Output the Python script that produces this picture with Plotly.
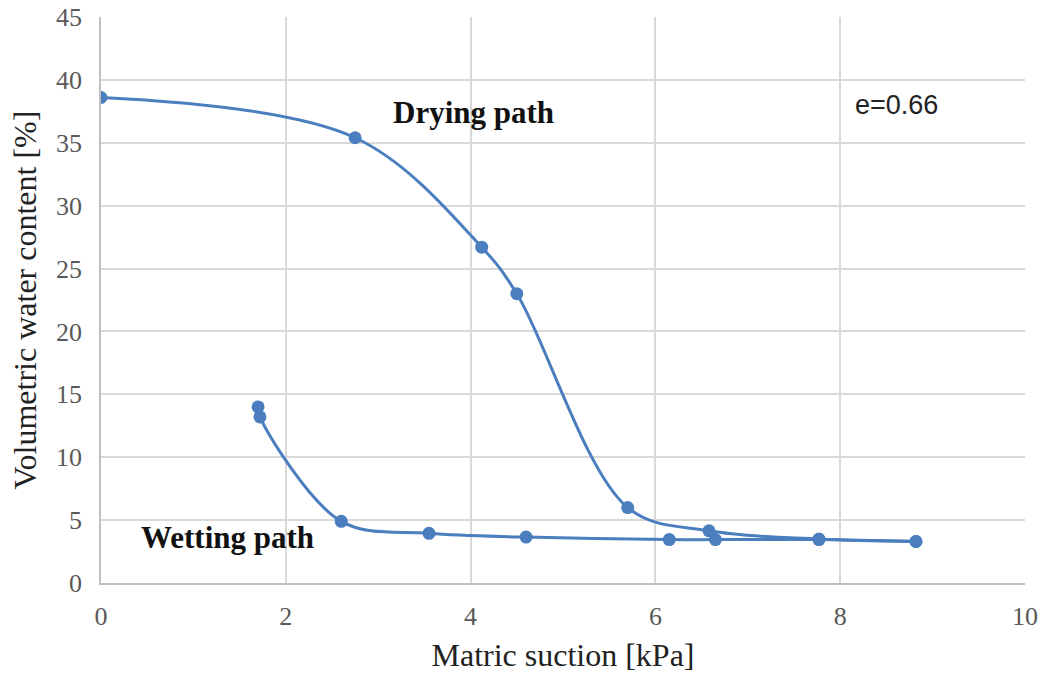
import plotly.graph_objects as go

drying_x = [0.0, 2.75, 4.12, 4.5, 5.7, 6.58, 7.77, 8.82]
drying_y = [38.6, 35.4, 26.7, 23.0, 6.0, 4.15, 3.5, 3.3]
wetting_x = [8.82, 7.77, 6.65, 6.15, 4.6, 3.55, 2.6, 1.72, 1.7]
wetting_y = [3.3, 3.45, 3.45, 3.45, 3.65, 3.95, 4.9, 13.2, 14.0]

x_ticks = [0, 2, 4, 6, 8, 10]
y_ticks = [0, 5, 10, 15, 20, 25, 30, 35, 40, 45]

color = "#4a7ebf"
serif = "Liberation Serif, Times New Roman, serif"

fig = go.Figure()
for xs, ys, name in [(drying_x, drying_y, "Drying path"), (wetting_x, wetting_y, "Wetting path")]:
    fig.add_trace(go.Scatter(
        x=xs, y=ys, mode="lines+markers", name=name,
        line=dict(color=color, width=3, shape="spline", smoothing=1.0),
        marker=dict(color=color, size=13),
        showlegend=False,
    ))

fig.add_annotation(x=4.03, y=37.4, text="<b>Drying path</b>", showarrow=False,
                   font=dict(family=serif, size=31, color="#111111"))
fig.add_annotation(x=1.37, y=3.65, text="<b>Wetting path</b>", showarrow=False,
                   font=dict(family=serif, size=31, color="#111111"))
fig.add_annotation(x=8.61, y=38.0, text="e=0.66", showarrow=False,
                   font=dict(family="Liberation Sans, Arial, sans-serif", size=27, color="#222222"))

fig.update_layout(
    width=1045, height=676,
    margin=dict(l=101, r=20, t=17, b=93),
    paper_bgcolor="white", plot_bgcolor="white",
    font=dict(family=serif),
    xaxis=dict(
        range=[0, 10], tickvals=x_ticks, ticktext=[str(v) for v in x_ticks],
        showgrid=True, gridcolor="#d9d9d9", gridwidth=1.5,
        showline=True, linecolor="#bfbfbf", linewidth=1.5,
        zeroline=False, ticks="", ticklabelstandoff=9, automargin=False,
        tickfont=dict(family=serif, size=26, color="#595959"),
        title=dict(text="Matric suction [kPa]", font=dict(family=serif, size=32, color="#222222"), standoff=14),
    ),
    yaxis=dict(
        range=[0, 45], tickvals=y_ticks, ticktext=[str(v) for v in y_ticks],
        showgrid=True, gridcolor="#d9d9d9", gridwidth=1.5,
        showline=True, linecolor="#bfbfbf", linewidth=1.5,
        zeroline=False, ticks="", ticklabelstandoff=12, automargin=False,
        tickfont=dict(family=serif, size=26, color="#595959"),
        title=dict(text="Volumetric water content [%]", font=dict(family=serif, size=32, color="#222222"), standoff=10),
    ),
)

fig.write_html("out.html")
